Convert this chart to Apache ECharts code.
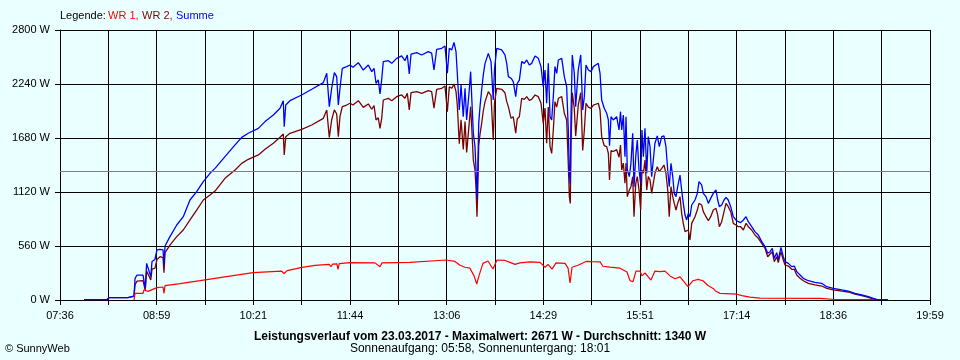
<!DOCTYPE html>
<html><head><meta charset="utf-8">
<script src="https://cdn.jsdelivr.net/npm/echarts@6/dist/echarts.min.js"></script>
<style>html,body{margin:0;padding:0;background:#EAFFFF}#c{width:960px;height:360px}</style>
</head><body><div id="c"></div>
<script>
// axis range: 07:36 .. 19:59 (minutes since midnight)
const axisStart = 456;
const axisEnd = 1199;
const xSplits = 18;
const tickLabels = ['07:36','08:59','10:21','11:44','13:06','14:29','15:51','17:14','18:36','19:59'];
const yMax = 2800;
const yStep = 560;
const average = 1340;
const legendNames = ['WR 1', 'WR 2', 'Summe'];
const titleText = 'Leistungsverlauf vom 23.03.2017 - Maximalwert: 2671 W - Durchschnitt: 1340 W';
const subText = 'Sonnenaufgang: 05:58, Sonnenuntergang: 18:01';
const footText = '\u00A9 SunnyWeb';

// shared time stamps (minutes since midnight) for WR 2 and Summe
const sTimes = [
476.5,496.1,497.8,514.1,514.9,519.2,520.1,521.8,526.9,528.8,
530.0,531.6,533.5,534.6,537.1,538.8,541.4,544.0,544.8,545.7,
549.9,555.7,561.3,567.0,572.7,578.4,584.1,588.4,596.9,605.5,
611.2,616.8,625.4,631.1,638.2,643.9,646.7,647.5,648.8,652.4,
662.4,671.0,680.9,683.8,686.0,688.0,690.3,692.3,693.7,695.1,
697.1,700.8,703.7,706.2,710.8,715.0,719.3,722.2,724.2,725.9,
727.8,729.3,730.7,732.1,736.4,739.3,743.5,747.8,750.6,752.6,
754.3,755.8,760.6,764.9,770.5,773.4,775.4,777.7,782.0,784.8,
786.8,788.5,790.5,792.5,794.2,795.3,797.0,798.5,800.4,801.9,
803.3,805.5,806.7,807.6,809.0,810.4,811.3,812.1,812.7,813.6,
814.7,816.1,817.5,819.0,821.8,824.1,826.0,827.1,829.0,833.2,
836.0,837.5,838.9,841.2,843.1,845.2,846.5,848.3,850.3,852.5,
854.6,856.8,858.8,861.7,864.5,866.8,868.7,870.2,871.6,873.0,
874.5,875.9,877.3,878.7,880.2,881.6,884.5,886.7,888.7,890.1,
891.0,891.8,892.4,893.5,895.2,896.4,898.6,900.7,902.4,903.8,
905.2,907.2,909.5,911.5,913.5,915.7,917.2,918.6,920.8,922.9,
924.3,925.3,926.6,928.5,931.4,933.4,934.7,935.7,937.1,938.5,
939.4,940.5,942.2,943.6,945.1,946.2,947.7,949.0,950.5,951.9,
953.0,954.2,955.6,957.1,958.4,959.9,961.3,962.7,964.1,966.1,
967.8,969.9,971.8,973.5,975.0,976.3,977.8,979.3,980.6,982.1,
983.5,985.5,986.9,988.3,989.8,991.2,992.6,994.0,995.5,998.3,
1000.3,1001.7,1004.0,1005.4,1007.7,1009.7,1011.7,1013.9,1016.2,1017.7,
1019.1,1021.1,1023.1,1024.8,1026.7,1028.8,1031.0,1033.3,1035.3,1037.3,
1039.6,1041.9,1043.8,1046.7,1049.5,1052.4,1055.3,1058.1,1060.4,1062.4,
1064.3,1066.0,1068.1,1069.4,1071.7,1073.7,1075.2,1078.0,1080.9,1083.1,
1085.2,1088.0,1090.8,1095.1,1100.8,1106.5,1110.8,1116.4,1123.6,1129.2,
1134.9,1140.7,1146.3,1150.6,1153.5,1163.1
];
const summe = [
3,3,24,24,40,40,225,259,259,121,
380,400,242,400,420,519,525,519,363,560,
657,778,864,1037,1124,1227,1314,1365,1487,1608,
1687,1729,1780,1850,1919,1988,2067,1798,2022,2067,
2126,2185,2254,2351,2005,2195,2358,2316,2022,2195,
2403,2420,2437,2413,2461,2385,2437,2368,2403,2247,
2282,2136,2282,2472,2482,2454,2506,2531,2482,2541,
2344,2551,2565,2541,2575,2560,2385,2600,2610,2634,
2351,2610,2593,2671,2575,2351,1970,2230,1901,2195,
1867,2178,2368,2109,1729,1590,1348,1050,1300,1832,
2005,2178,2334,2454,2558,2472,2074,2400,2610,2593,
2541,2454,2316,2300,2264,2109,2247,2280,2472,2454,
2489,2437,2454,2531,2506,2420,2212,2385,2040,2454,
1901,1867,2109,2420,2351,2489,2506,2316,2212,1763,
1314,1200,1901,2541,2351,2005,2385,2541,1971,2109,
2437,2385,2368,2420,2437,2454,2351,2074,1988,1936,
1867,1600,1901,1867,1901,1763,1953,1763,1919,1487,
1901,1348,1279,1417,1729,1175,1487,1659,1348,1210,
1763,1487,1780,1314,1694,1590,1279,1452,1625,1701,
1590,1694,1701,1590,1348,1175,1417,1279,1106,1072,
1175,1296,1141,1002,881,830,899,864,985,1037,
1106,1227,1193,1106,1072,1002,1054,1106,1141,1037,
968,985,1037,1065,1037,968,864,830,812,802,
830,864,812,760,709,674,605,553,484,501,
536,432,491,415,546,449,398,380,346,352,
294,260,225,200,183,173,138,121,104,93,
69,52,35,17,7,3
];
const wr2 = [
3,3,24,24,40,40,160,195,200,100,
300,311,207,320,330,420,449,440,283,491,
570,657,726,830,933,1037,1089,1130,1262,1348,
1417,1459,1504,1563,1625,1687,1722,1504,1694,1729,
1770,1815,1884,1971,1687,1867,1971,1929,1694,1901,
2005,2022,2040,2022,2067,1998,2033,1978,2015,1867,
1890,1780,1880,2074,2092,2067,2109,2126,2092,2143,
1971,2150,2161,2143,2171,2161,1990,2185,2195,2219,
1953,2212,2195,2240,2161,2022,1620,1870,1560,1850,
1530,1840,2005,1800,1450,1350,1160,864,1100,1600,
1720,1830,1960,2057,2160,2120,1659,2050,2195,2185,
2150,2057,2005,1884,1900,1729,1880,1900,2092,2080,
2109,2070,2080,2126,2109,2040,1832,1990,1625,2000,
1590,1521,1763,2057,2000,2092,2109,1936,1867,1400,
1072,1002,1600,2150,1990,1700,2020,2150,1550,1763,
2040,2000,1988,2020,2030,2040,1970,1694,1600,1590,
1521,1245,1550,1540,1560,1480,1607,1348,1420,1210,
1420,1072,1140,1175,1279,864,1210,1279,1141,933,
1348,1314,1452,1141,1279,1245,1106,1210,1314,1383,
1331,1365,1400,1314,1141,864,1175,1072,1002,933,
1002,1072,899,795,709,691,726,622,795,864,
933,1002,985,916,864,822,864,933,951,881,
760,812,916,1002,968,916,795,778,760,760,
726,795,760,726,674,640,588,536,449,477,
501,397,449,387,501,415,363,352,318,318,
260,225,200,173,156,145,121,104,93,83,
62,45,28,10,0,null
];
// WR 1 time stamps and values
const r1Times = [
519.2,520.1,526.9,527.7,531.2,532.9,538.8,544.0,544.8,545.7,
558.5,575.6,588.4,620.8,645.0,647.5,650.0,662.7,673.8,686.0,
687.4,688.8,692.5,693.4,694.5,703.7,725.0,729.3,731.0,754.9,
785.7,793.3,797.6,801.9,806.1,809.6,811.9,813.8,817.2,821.5,
825.8,829.2,836.0,840.3,844.6,848.8,857.4,865.9,870.2,872.8,
876.2,879.6,887.3,889.9,891.6,893.3,898.4,905.2,910.3,917.2,
919.7,925.7,934.3,940.2,942.8,945.4,947.9,951.3,953.0,955.6,
957.0,960.7,964.1,968.4,972.7,977.0,981.2,985.5,988.9,992.3,
996.6,1000.9,1005.1,1009.4,1013.8,1016.2,1019.7,1034.2,1038.4,1045.3,
1053.8,1105.1,1117.9,1150.3,1151.2
];
const wr1 = [
0,69,69,104,90,110,128,135,69,150,
170,200,225,283,300,275,305,339,360,370,
345,372,375,318,378,387,385,345,385,390,
415,400,360,340,330,250,166,250,380,404,
322,415,410,390,370,385,395,390,340,370,
320,385,380,330,176,340,360,400,397,395,
350,340,330,290,200,190,300,300,250,280,
290,207,300,295,300,250,220,240,190,138,
200,214,200,150,120,90,69,60,45,30,
20,17,5,3,0
];

function pairs(times, vals) {
  return times.map((t, i) => [t - axisStart, vals[i]]);
}
const span = axisEnd - axisStart;
const xInterval = span / xSplits;
const FONT = 'Liberation Sans';

function plainTitle(text, left, top, size, color, weight) {
  return {
    left: left, top: top, padding: 0, text: text,
    textStyle: {fontSize: size, fontWeight: weight || 'normal', color: color, fontFamily: FONT}
  };
}

const chart = echarts.init(document.getElementById('c'), null, {renderer: 'canvas'});
chart.setOption({
  backgroundColor: '#EAFFFF',
  animation: false,
  textStyle: {fontFamily: FONT},
  title: [
    plainTitle('Legende:', 60, 10, 11, '#000000'),
    plainTitle(legendNames[0] + ',', 108, 10, 11, '#FF0000'),
    plainTitle(legendNames[1] + ',', 142, 10, 11, '#800000'),
    plainTitle(legendNames[2], 176, 10, 11, '#0000FF'),
    plainTitle(titleText, 'center', 331, 12, '#000000', 'bold'),
    plainTitle(subText, 'center', 343, 12, '#000000'),
    plainTitle(footText, 5, 343, 11, '#000000')
  ],
  grid: {left: 60, right: 30, top: 30, bottom: 60, containLabel: false},
  xAxis: {
    type: 'value', min: 0, max: span, interval: xInterval,
    axisLine: {show: true, lineStyle: {color: '#000', width: 1}},
    axisTick: {show: true, length: 5, lineStyle: {color: '#000'}},
    splitLine: {show: true, lineStyle: {color: '#000', width: 1}},
    axisLabel: {
      margin: 10, color: '#000', fontSize: 11, fontFamily: FONT, showMinLabel: true, showMaxLabel: true,
      formatter: function (v) {
        const idx = Math.round(v / xInterval);
        return idx % 2 === 0 ? tickLabels[idx / 2] : '';
      }
    }
  },
  yAxis: {
    type: 'value', min: 0, max: yMax, interval: yStep,
    axisLine: {show: true, lineStyle: {color: '#000', width: 1}},
    axisTick: {show: true, length: 5, lineStyle: {color: '#000'}},
    splitLine: {show: true, lineStyle: {color: '#000', width: 1}},
    axisLabel: {margin: 10, color: '#000', fontSize: 11, fontFamily: FONT,
      formatter: function (v) { return v + ' W'; }}
  },
  series: [
    {
      name: legendNames[1], type: 'line', data: pairs(sTimes, wr2), showSymbol: false,
      lineStyle: {color: '#800000', width: 1.3}, itemStyle: {color: '#800000'},
      markLine: {
        silent: true, symbol: 'none', label: {show: false},
        lineStyle: {color: '#808080', type: 'solid', width: 1},
        data: [{yAxis: average}]
      }
    },
    {
      name: legendNames[2], type: 'line', data: pairs(sTimes, summe), showSymbol: false,
      lineStyle: {color: '#0000FF', width: 1.3}, itemStyle: {color: '#0000FF'}
    },
    {
      name: legendNames[0], type: 'line', data: pairs(r1Times, wr1), showSymbol: false,
      lineStyle: {color: '#FF0000', width: 1.2}, itemStyle: {color: '#FF0000'}
    }
  ]
});
</script>
</body></html>
